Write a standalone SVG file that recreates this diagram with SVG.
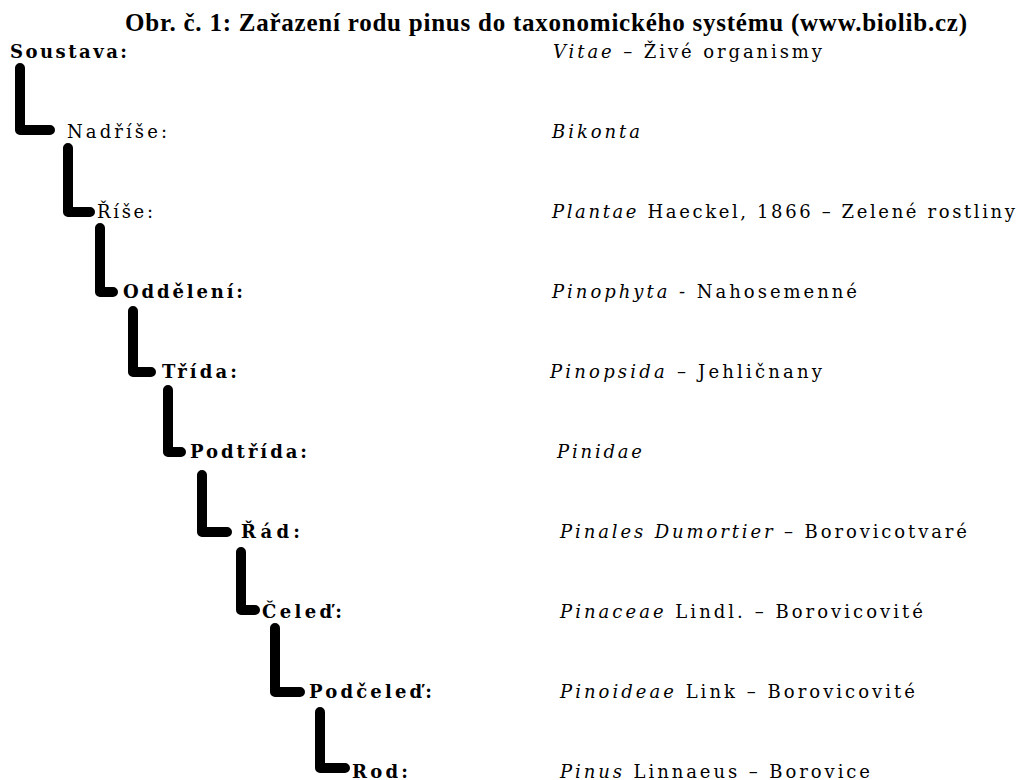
<svg xmlns="http://www.w3.org/2000/svg" width="1024" height="780" viewBox="0 0 1024 780">
<style>
.title{font-family:"Liberation Serif","Times New Roman",serif;font-weight:bold;font-size:25px;fill:#000}
.rank{font-family:"DejaVu Serif","Liberation Serif",serif;font-weight:bold;font-size:18px;fill:#000}
.rank.thin{font-weight:normal}
.name{font-family:"DejaVu Serif","Liberation Serif",serif;font-size:18px;fill:#000}
.it{font-style:italic}
.conn{fill:none;stroke:#000;stroke-width:10;stroke-linecap:round;stroke-linejoin:round}
</style>
<rect width="1024" height="780" fill="#fff"/>
<text class="title" x="125" y="31" textLength="842" lengthAdjust="spacing">Obr. č. 1: Zařazení rodu pinus do taxonomického systému (www.biolib.cz)</text>

<g id="connectors">
<path class="conn" d="M20,68 V130 H50"/>
<path class="conn" d="M68,148 V212 H90"/>
<path class="conn" d="M100,228 V292 H113"/>
<path class="conn" d="M133,311 V372 H151"/>
<path class="conn" d="M168,390 V452 H181"/>
<path class="conn" d="M202,475 V532 H227"/>
<path class="conn" d="M241,552 V610 H255"/>
<path class="conn" d="M275,628 V692 H300"/>
<path class="conn" d="M320,712 V768 H345"/>
</g>

<g id="soustava">
<text class="rank" x="10" y="58" textLength="117" lengthAdjust="spacing">Soustava:</text>
<text class="name" x="553" y="58" textLength="269" lengthAdjust="spacing"><tspan class="it">Vitae</tspan> – Živé organismy</text>
</g>
<g id="nadrise">
<text class="rank thin" x="67" y="138" textLength="100" lengthAdjust="spacing">Nadříše:</text>
<text class="name it" x="552" y="138" textLength="88" lengthAdjust="spacing">Bikonta</text>
</g>
<g id="rise">
<text class="rank thin" x="97" y="218" textLength="56" lengthAdjust="spacing">Říše:</text>
<text class="name" x="552" y="218" textLength="463" lengthAdjust="spacing"><tspan class="it">Plantae</tspan> Haeckel, 1866 – Zelené rostliny</text>
</g>
<g id="oddeleni">
<text class="rank" x="123" y="298" textLength="120" lengthAdjust="spacing">Oddělení:</text>
<text class="name" x="552" y="298" textLength="305" lengthAdjust="spacing"><tspan class="it">Pinophyta</tspan> - Nahosemenné</text>
</g>
<g id="trida">
<text class="rank" x="162" y="378" textLength="75" lengthAdjust="spacing">Třída:</text>
<text class="name" x="550" y="378" textLength="272" lengthAdjust="spacing"><tspan class="it">Pinopsida</tspan> – Jehličnany</text>
</g>
<g id="podtrida">
<text class="rank" x="190" y="458" textLength="117" lengthAdjust="spacing">Podtřída:</text>
<text class="name it" x="557" y="458" textLength="85" lengthAdjust="spacing">Pinidae</text>
</g>
<g id="rad">
<text class="rank" x="241" y="538" textLength="59" lengthAdjust="spacing">Řád:</text>
<text class="name" x="560" y="538" textLength="407" lengthAdjust="spacing"><tspan class="it">Pinales Dumortier</tspan> – Borovicotvaré</text>
</g>
<g id="celed">
<text class="rank" x="262" y="618" textLength="80" lengthAdjust="spacing">Čeleď:</text>
<text class="name" x="560" y="618" textLength="363" lengthAdjust="spacing"><tspan class="it">Pinaceae</tspan> Lindl. – Borovicovité</text>
</g>
<g id="podceled">
<text class="rank" x="309" y="698" textLength="123" lengthAdjust="spacing">Podčeleď:</text>
<text class="name" x="560" y="698" textLength="355" lengthAdjust="spacing"><tspan class="it">Pinoideae</tspan> Link – Borovicovité</text>
</g>
<g id="rod">
<text class="rank" x="352" y="778" textLength="56" lengthAdjust="spacing">Rod:</text>
<text class="name" x="560" y="778" textLength="310" lengthAdjust="spacing"><tspan class="it">Pinus</tspan> Linnaeus – Borovice</text>
</g>
</svg>
